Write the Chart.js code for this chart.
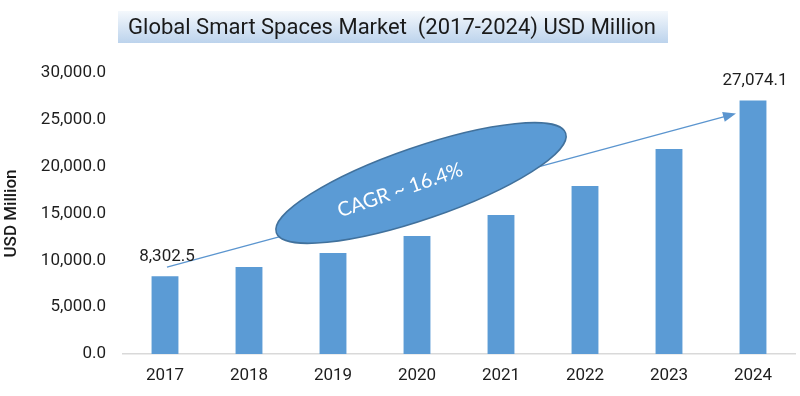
<!DOCTYPE html>
<html lang="en">
<head>
  <meta charset="UTF-8">
  <title>Global Smart Spaces Market</title>
  <script src="https://cdn.jsdelivr.net/npm/chart.js"></script>
  <style>
    html, body { margin: 0; padding: 0; background: #fff; }
    #wrap { width: 800px; height: 396px; }
  </style>
</head>
<body>
  <div id="wrap"><canvas id="chart"></canvas></div>

  <script>
    const years = ['2017', '2018', '2019', '2020', '2021', '2022', '2023', '2024'];
    const marketSize = [8302.5, 9290, 10780, 12590, 14830, 17930, 21880, 27074.1];
    const yTicks = [0, 5000, 10000, 15000, 20000, 25000, 30000];
    const labelledBars = [0, 7];
    const titleText = 'Global Smart Spaces Market  (2017-2024) USD Million';
    const cagrText = 'CAGR ~ 16.4%';

    const fmt = v => v.toLocaleString('en-US', { minimumFractionDigits: 1, maximumFractionDigits: 1 });

    // title box, arrow, ellipse and the two value labels
    const decorations = {
      id: 'decorations',
      beforeDraw(chart) {
        const ctx = chart.ctx;
        ctx.save();
        const g = ctx.createLinearGradient(0, 11, 0, 43);
        g.addColorStop(0, '#f4f8fc');
        g.addColorStop(1, '#bcd3ec');
        ctx.fillStyle = g;
        ctx.fillRect(118, 11, 550, 32);
        ctx.fillStyle = '#1a1a1a';
        ctx.font = '22px Roboto';
        ctx.textAlign = 'center';
        ctx.textBaseline = 'middle';
        ctx.fillText(titleText, 392, 28);
        ctx.restore();
      },
      afterDatasetsDraw(chart) {
        const ctx = chart.ctx;
        const meta = chart.getDatasetMeta(0);
        const first = meta.data[0];
        const last = meta.data[meta.data.length - 1];

        // trend arrow
        const x0 = first.x + 2, y0 = first.y - 9;
        const x1 = last.x - 17, y1 = last.y + 13;
        const ang = Math.atan2(y1 - y0, x1 - x0);
        ctx.save();
        ctx.strokeStyle = '#5b95cf';
        ctx.fillStyle = '#5b95cf';
        ctx.lineWidth = 1.3;
        ctx.beginPath();
        ctx.moveTo(x0, y0);
        ctx.lineTo(x1 - 10 * Math.cos(ang), y1 - 10 * Math.sin(ang));
        ctx.stroke();
        ctx.translate(x1, y1);
        ctx.rotate(ang);
        ctx.beginPath();
        ctx.moveTo(0, 0);
        ctx.lineTo(-13, -5);
        ctx.lineTo(-13, 5);
        ctx.closePath();
        ctx.fill();
        ctx.restore();

        // CAGR ellipse
        const area = chart.chartArea;
        const cx = area.left + 298, cy = area.top + 110;
        ctx.save();
        ctx.translate(cx, cy);
        ctx.rotate(-19 * Math.PI / 180);
        ctx.beginPath();
        ctx.ellipse(0, 0, 153, 36, 0, 0, Math.PI * 2);
        ctx.fillStyle = '#5b9bd5';
        ctx.fill();
        ctx.lineWidth = 1.5;
        ctx.strokeStyle = '#41719c';
        ctx.stroke();
        ctx.fillStyle = '#ffffff';
        ctx.font = '20px Lato';
        ctx.textAlign = 'center';
        ctx.textBaseline = 'middle';
        ctx.fillText(cagrText, -22, 0);
        ctx.restore();

        // value labels on first and last bar
        ctx.save();
        ctx.fillStyle = '#1e1e1e';
        ctx.font = '17px Roboto';
        ctx.textAlign = 'center';
        ctx.textBaseline = 'bottom';
        labelledBars.forEach(i => {
          const bar = meta.data[i];
          ctx.fillText(fmt(marketSize[i]), bar.x + 2, bar.y - 11);
        });
        ctx.restore();
      }
    };

    new Chart(document.getElementById('chart'), {
      type: 'bar',
      data: {
        labels: years,
        datasets: [{
          data: marketSize,
          backgroundColor: '#5b9bd5',
          categoryPercentage: 0.8,
          barPercentage: 0.4
        }]
      },
      options: {
        responsive: true,
        maintainAspectRatio: false,
        animation: false,
        layout: { padding: { top: 73, right: 5, left: 0, bottom: 0 } },
        plugins: {
          legend: { display: false },
          title: { display: false },
          tooltip: { enabled: false }
        },
        scales: {
          x: {
            grid: { display: false, drawTicks: false },
            border: { display: true, color: '#d9d9d9', width: 1.5 },
            ticks: { color: '#1e1e1e', font: { family: 'Roboto', size: 17 }, padding: 12 },
            afterFit: s => { s.height = 42; }
          },
          y: {
            min: 0,
            max: 30000,
            afterBuildTicks: s => { s.ticks = yTicks.map(v => ({ value: v })); },
            grid: { display: false, drawTicks: false },
            border: { display: false },
            ticks: {
              color: '#1e1e1e',
              font: { family: 'Roboto', size: 17 },
              padding: 17,
              callback: v => fmt(v)
            },
            title: {
              display: true,
              text: 'USD Million',
              color: '#1a1a1a',
              font: { family: 'Roboto', size: 17, weight: '500' },
              padding: { top: 2, bottom: 0 }
            },
            afterFit: s => { s.width = 123; }
          }
        }
      },
      plugins: [decorations]
    });
  </script>
</body>
</html>
